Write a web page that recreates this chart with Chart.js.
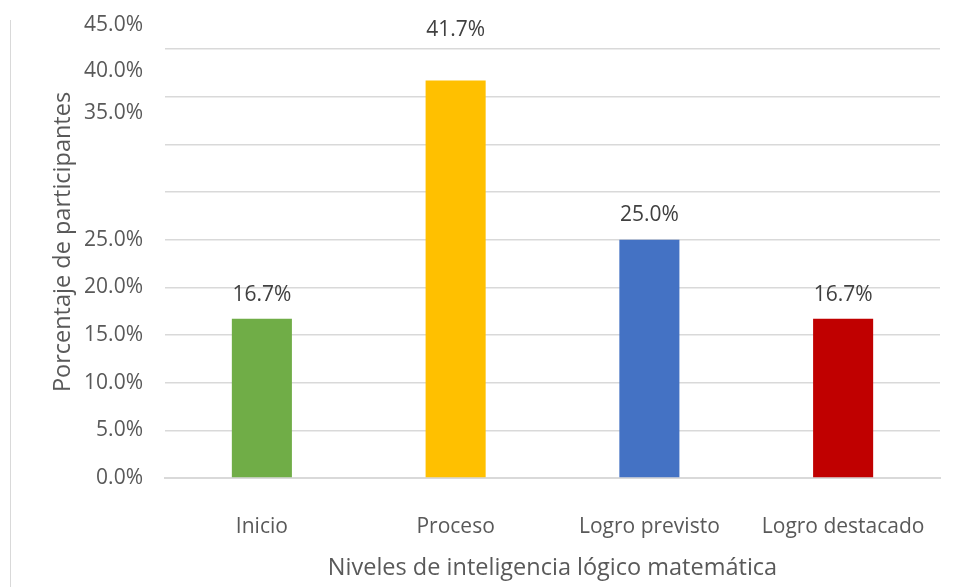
<!DOCTYPE html>
<html>
<head>
<meta charset="utf-8">
<script src="https://cdn.jsdelivr.net/npm/chart.js@4.4.0/dist/chart.umd.min.js"></script>
<style>
  html, body { margin: 0; padding: 0; background: #fff; }
  #wrap { position: relative; width: 955px; height: 587px; }
  #frame { position: absolute; left: 10px; top: 20px; bottom: 0; border-left: 1px solid #d9d9d9; }
</style>
</head>
<body>
<div id="wrap">
  <div id="frame"></div>
  <canvas id="chart" width="955" height="587"></canvas>
</div>
<script>
// data
const categories = ['Inicio', 'Proceso', 'Logro previsto', 'Logro destacado'];
const percentages = [16.7, 41.7, 25.0, 16.7];
const barColors = ['#70ad47', '#ffc000', '#4472c4', '#c00000'];
const tickValues = [0, 5, 10, 15, 20, 25, 35, 40, 45];

const fontFamily = "'Open Sans', 'Noto Sans', sans-serif";
const textColor = '#595959';
const yTitle = 'Porcentaje de participantes';

// how far above each bar the value label sits, and how far the upper tick labels are nudged
const labelGap = [24, 50, 25, 24];
const tickShift = { 35: -31, 40: -26, 45: -24 };

const labelsPlugin = {
    id: 'labelsPlugin',
    afterDraw(chart) {
        const ctx = chart.ctx;
        const y = chart.scales.y;
        ctx.save();
        ctx.font = '21px ' + fontFamily;
        ctx.fillStyle = textColor;
        ctx.textAlign = 'right';
        ctx.textBaseline = 'middle';
        tickValues.forEach(v => {
            let py = y.getPixelForValue(v) + (tickShift[v] || 0);
            ctx.fillText(v.toFixed(1) + '%', 143, py);
        });

        ctx.fillStyle = '#404040';
        ctx.textAlign = 'center';
        let meta = chart.getDatasetMeta(0);
        meta.data.forEach((bar, i) => {
            ctx.fillText(percentages[i].toFixed(1) + '%', bar.x, bar.y - labelGap[i]);
        });

        // y axis title
        ctx.translate(63, 242);
        ctx.rotate(-Math.PI / 2);
        ctx.font = '23.5px ' + fontFamily;
        ctx.fillStyle = textColor;
        ctx.fillText(yTitle, 0, 0);
        ctx.restore();
    }
};

const ctx = document.getElementById('chart').getContext('2d');
const chart = new Chart(ctx, {
    type: 'bar',
    data: {
        labels: categories,
        datasets: [{
            label: 'Porcentaje',
            data: percentages,
            backgroundColor: barColors,
            barPercentage: 0.31,
            categoryPercentage: 1
        }]
    },
    options: {
        responsive: false,
        animation: false,
        layout: { padding: { left: 48, right: 15, top: 49, bottom: 5 } },
        plugins: {
            legend: { display: false },
            tooltip: { enabled: false }
        },
        scales: {
            x: {
                grid: { display: false },
                border: { display: true, color: '#d9d9d9', width: 2 },
                ticks: {
                    color: textColor,
                    font: { family: fontFamily, size: 21 },
                    padding: 28,
                    maxRotation: 0,
                    minRotation: 0,
                    autoSkip: false
                },
                title: {
                    display: true,
                    text: 'Niveles de inteligencia lógico matemática',
                    color: textColor,
                    font: { family: fontFamily, size: 23.5 },
                    padding: 0
                },
                afterFit(scale) {
                    scale.height = 104;
                    scale.paddingLeft = 0;
                    scale.paddingRight = 0;
                }
            },
            y: {
                min: 0,
                max: 45,
                ticks: { stepSize: 5, display: false },
                grid: { color: '#d9d9d9', lineWidth: 1.5, drawTicks: false },
                border: { display: false },
                afterFit(scale) { scale.width = 117; }
            }
        }
    },
    plugins: [labelsPlugin]
});
</script>
</body>
</html>
